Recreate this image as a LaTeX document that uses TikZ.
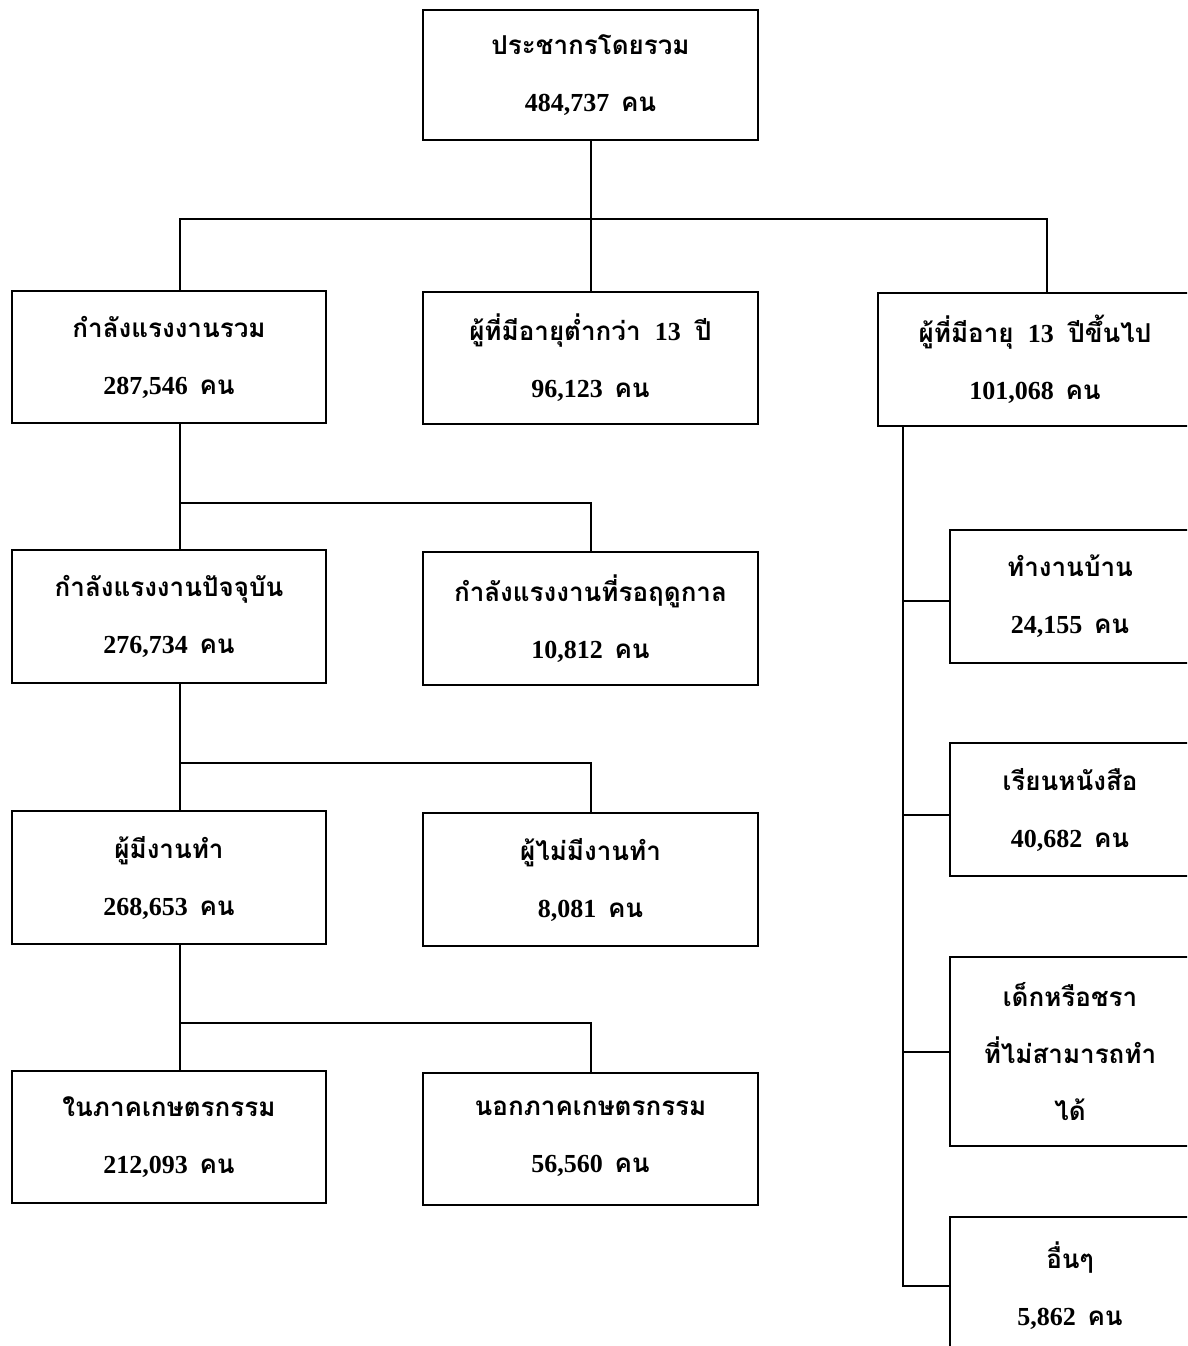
\documentclass[tikz,border=0pt]{standalone}
\usepackage{fontspec}
\setmainfont{Liberation Serif}
\newfontfamily\tf[Script=Thai]{Loma}
\newcommand{\kn}{\hspace{0.45em}{\tf คน}}
\tikzset{
  box/.style={draw, line width=2.2pt, rectangle, inner sep=0pt, align=center,
    font=\fontsize{26}{57}\selectfont\bfseries},
  conn/.style={line width=2pt},
}
\begin{document}
\begin{tikzpicture}[x=1pt,y=-1pt]
\clip (0,0) rectangle (1187,1346);
\useasboundingbox (0,0) rectangle (1187,1346);
% boxes: center, width, height
\node[box, minimum width=335pt, minimum height=130pt] (top) at (590.5,75) {{\tf ประชากรโดยรวม}\\484,737\kn};
\node[box, minimum width=314pt, minimum height=132pt] (l1) at (169,357) {{\tf กำลังแรงงานรวม}\\287,546\kn};
\node[box, minimum width=335pt, minimum height=132pt] (m1) at (590.5,358) {{\tf ผู้ที่มีอายุต่ำกว่า}\hspace{0.3em} 13\hspace{0.3em} {\tf ปี}\\96,123\kn};
\node[box, minimum width=314pt, minimum height=133pt] (r1) at (1035,359.5) {{\tf ผู้ที่มีอายุ}\hspace{0.3em} 13\hspace{0.3em} {\tf ปีขึ้นไป}\\101,068\kn};
\node[box, minimum width=314pt, minimum height=133pt] (l2) at (169,616.5) {{\tf กำลังแรงงานปัจจุบัน}\\276,734\kn};
\node[box, minimum width=335pt, minimum height=133pt] (m2) at (590.5,618.5) {{\tf กำลังแรงงานที่รอฤดูกาล}\\10,812\kn};
\node[box, minimum width=314pt, minimum height=133pt] (l3) at (169,877.5) {{\tf ผู้มีงานทำ}\\268,653\kn};
\node[box, minimum width=335pt, minimum height=133pt] (m3) at (590.5,879.5) {{\tf ผู้ไม่มีงานทำ}\\8,081\kn};
\node[box, minimum width=314pt, minimum height=132pt] (l4) at (169,1137) {{\tf ในภาคเกษตรกรรม}\\212,093\kn};
\node[box, minimum width=335pt, minimum height=132pt] (m4) at (590.5,1139) {{\tf นอกภาคเกษตรกรรม}\\56,560\kn};
\node[box, minimum width=240pt, minimum height=133pt] (r2) at (1070,596.5) {{\tf ทำงานบ้าน}\\24,155\kn};
\node[box, minimum width=240pt, minimum height=133pt] (r3) at (1070,809.5) {{\tf เรียนหนังสือ}\\40,682\kn};
\node[box, minimum width=240pt, minimum height=189pt] (r4) at (1070,1051.5) {{\tf เด็กหรือชรา}\\{\tf ที่ไม่สามารถทำ}\\{\tf ได้}};
\node[box, minimum width=240pt, minimum height=138pt] (r5) at (1070,1286) {{\tf อื่นๆ}\\5,862\kn};
% junction coordinates
\coordinate (j0) at (591,219);
\coordinate (j1) at (180,503);
\coordinate (j2) at (180,763);
\coordinate (j3) at (180,1023);
\coordinate (rt) at (903,426);
% top level
\draw[conn] (top.south) -- (m1.north);
\draw[conn] ([xshift=11pt]l1.north) |- (j0) -| ([xshift=12pt]r1.north);
% left chain
\draw[conn] ([xshift=11pt]l1.south) -- ([xshift=11pt]l2.north);
\draw[conn] (j1) -| (m2.north);
\draw[conn] ([xshift=11pt]l2.south) -- ([xshift=11pt]l3.north);
\draw[conn] (j2) -| (m3.north);
\draw[conn] ([xshift=11pt]l3.south) -- ([xshift=11pt]l4.north);
\draw[conn] (j3) -| (m4.north);
% right trunk
\draw[conn] (rt) |- (r5.west);
\draw[conn] (rt |- r2.west) ++(0,4.5) -- ([yshift=-4.5pt]r2.west);
\draw[conn] (rt |- r3.west) ++(0,5.5) -- ([yshift=-5.5pt]r3.west);
\draw[conn] (rt |- r4.west) -- (r4.west);
\end{tikzpicture}
\end{document}
